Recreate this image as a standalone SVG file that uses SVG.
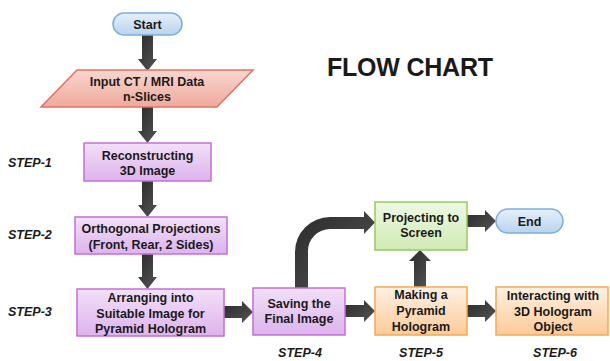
<svg xmlns="http://www.w3.org/2000/svg" width="610" height="361" viewBox="0 0 610 361">
<defs>
<linearGradient id="gBlue" x1="0" y1="0" x2="0" y2="1"><stop offset="0" stop-color="#e6f0fa"/><stop offset="1" stop-color="#b9d3ee"/></linearGradient>
<linearGradient id="gRed" x1="0" y1="0" x2="0" y2="1"><stop offset="0" stop-color="#f8d6d0"/><stop offset="1" stop-color="#eea99c"/></linearGradient>
<linearGradient id="gPurple" x1="0" y1="0" x2="0" y2="1"><stop offset="0" stop-color="#f2e0f8"/><stop offset="1" stop-color="#ddb3ec"/></linearGradient>
<linearGradient id="gGreen" x1="0" y1="0" x2="0" y2="1"><stop offset="0" stop-color="#eef8e4"/><stop offset="1" stop-color="#cfeab4"/></linearGradient>
<linearGradient id="gOrange" x1="0" y1="0" x2="0" y2="1"><stop offset="0" stop-color="#fff0e2"/><stop offset="1" stop-color="#fccb98"/></linearGradient>
<linearGradient id="gArrow" x1="0" y1="0" x2="1" y2="1"><stop offset="0" stop-color="#2a2a2a"/><stop offset="1" stop-color="#555"/></linearGradient>
</defs>
<style>
text{font-family:"Liberation Sans",Arial,sans-serif;font-weight:bold;fill:#1a1a1a;}
.t{font-size:12.5px;text-anchor:middle;}
.step{font-size:12.5px;font-style:italic;}
.stepc{font-size:12.5px;font-style:italic;text-anchor:middle;}
.term{fill:url(#gBlue);stroke:#7aaedc;stroke-width:1.5;}
.io{fill:url(#gRed);stroke:#e2725f;stroke-width:1.5;}
.pu{fill:url(#gPurple);stroke:#c56fd8;stroke-width:1.5;}
.gr{fill:url(#gGreen);stroke:#92cc5e;stroke-width:1.5;}
.or{fill:url(#gOrange);stroke:#f7a850;stroke-width:1.5;}
.arr{fill:url(#gArrow);}
</style>
<text x="327" y="76" style="font-size:25px" textLength="166">FLOW CHART</text>
<g id="connectors">
<path class="arr" d="M142,35 H153 V59 H157 L147.5,71 L138,59 H142 Z"/>
<path class="arr" d="M142,107 H153 V131 H157 L147.5,143 L138,131 H142 Z"/>
<path class="arr" d="M142,181 H153 V205 H157 L147.5,217 L138,205 H142 Z"/>
<path class="arr" d="M142,254 H153 V277 H157 L147.5,289 L138,277 H142 Z"/>
<path class="arr" d="M224,306 H242 V301 L253,312 L242,323 V318 H224 Z"/>
<path class="arr" d="M345,305 H364 V300 L375,311 L364,322 V317 H345 Z"/>
<path class="arr" d="M467,305 H485 V300 L496,311 L485,322 V317 H467 Z"/>
<path class="arr" d="M467,215 H485 V210 L496,221 L485,232 V227 H467 Z"/>
<path class="arr" d="M414,287 V261 H409 L420,250 L431,261 H426 V287 Z"/>
<path class="arr" d="M295,288 V252 A35,35 0 0 1 330,217 H364 V211 L375,222.5 L364,234 V229 H330 A22,22 0 0 0 308,251 V288 Z"/>
</g>
<g id="start"><rect class="term" x="113" y="13" width="69" height="22" rx="11"/><text class="t" x="147.5" y="29">Start</text></g>
<g id="input"><path class="io" d="M77,70 H253 L217,107 H41 Z"/><text class="t" x="147" y="86">Input CT / MRI Data</text><text class="t" x="147" y="101">n-Slices</text></g>
<g id="recon"><rect class="pu" x="84" y="143" width="127" height="38"/><text class="t" x="147.5" y="160">Reconstructing</text><text class="t" x="147.5" y="175">3D Image</text></g>
<g id="ortho"><rect class="pu" x="75" y="217" width="152" height="37"/><text class="t" x="151" y="233">Orthogonal Projections</text><text class="t" x="151" y="249">(Front, Rear, 2 Sides)</text></g>
<g id="arrange"><rect class="pu" x="77" y="289" width="147" height="47"/><text class="t" x="150.5" y="302">Arranging into</text><text class="t" x="150.5" y="318">Suitable Image for</text><text class="t" x="150.5" y="333">Pyramid Hologram</text></g>
<g id="saving"><rect class="pu" x="253" y="288" width="92" height="47"/><text class="t" x="299" y="308">Saving the</text><text class="t" x="299" y="323">Final Image</text></g>
<g id="projecting"><rect class="gr" x="375" y="202" width="92" height="48"/><text class="t" x="421" y="222">Projecting to</text><text class="t" x="421" y="237">Screen</text></g>
<g id="end"><rect class="term" x="496" y="209" width="67" height="24" rx="12"/><text class="t" x="529.5" y="226">End</text></g>
<g id="making"><rect class="or" x="375" y="287" width="92" height="48"/><text class="t" x="421" y="299">Making a</text><text class="t" x="421" y="315">Pyramid</text><text class="t" x="421" y="331">Hologram</text></g>
<g id="interacting"><rect class="or" x="496" y="287" width="112" height="48"/><text class="t" x="553" y="300">Interacting with</text><text class="t" x="553" y="316">3D Hologram</text><text class="t" x="553" y="331">Object</text></g>
<g id="steps">
<text class="step" x="8" y="167">STEP-1</text>
<text class="step" x="8" y="239">STEP-2</text>
<text class="step" x="8" y="316">STEP-3</text>
<text class="stepc" x="300" y="357">STEP-4</text>
<text class="stepc" x="421" y="357">STEP-5</text>
<text class="stepc" x="555" y="357">STEP-6</text>
</g>
</svg>
